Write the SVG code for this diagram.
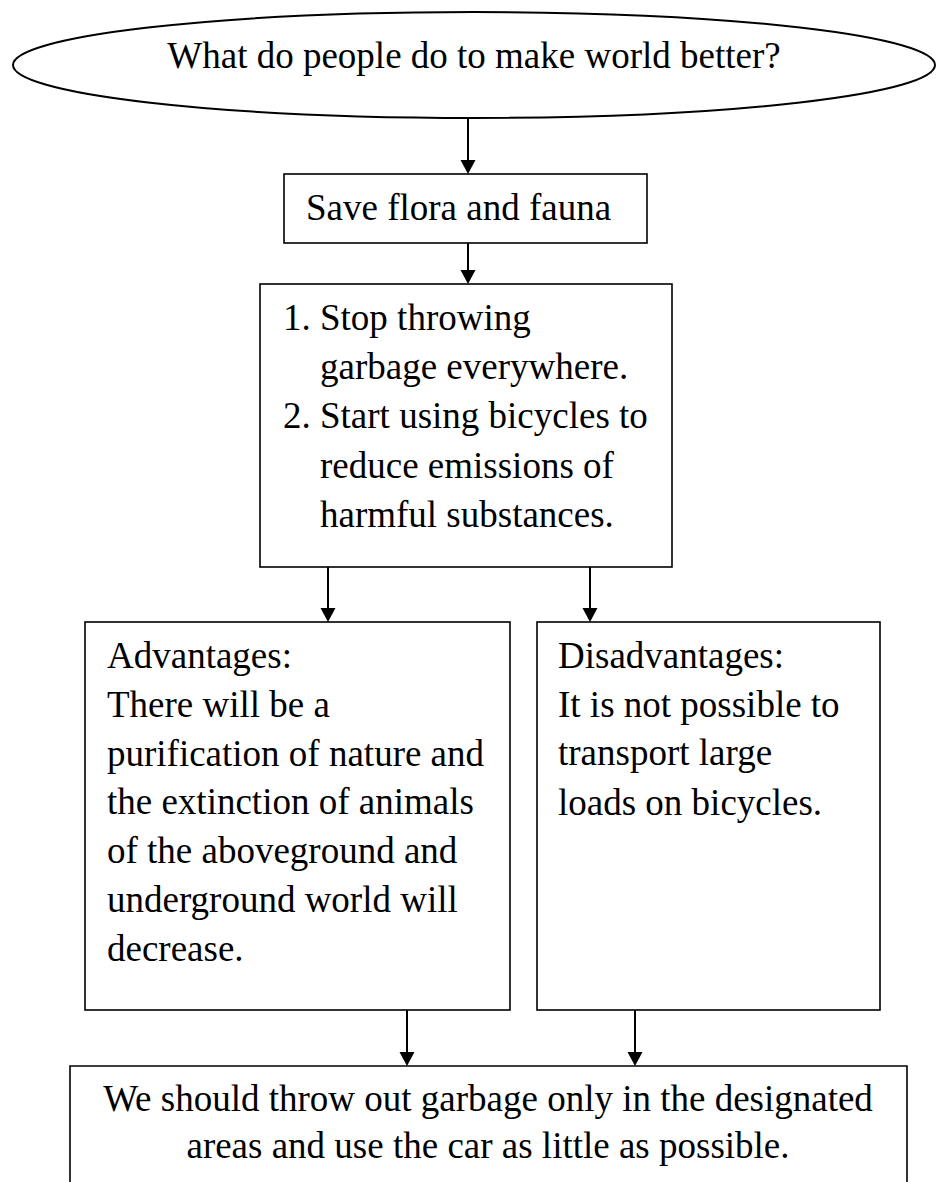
<svg xmlns="http://www.w3.org/2000/svg" width="936" height="1182" viewBox="0 0 936 1182">
  <defs>
    <style>
      .box { fill: #ffffff; stroke: #000000; stroke-width: 1.6; }
      .oval { fill: #ffffff; stroke: #000000; stroke-width: 2; }
      .t { font-family: "Liberation Serif", "Times New Roman", serif; font-size: 37px; fill: #000000; }
      .c { text-anchor: middle; }
      .conn { stroke: #000000; stroke-width: 2; fill: none; marker-end: url(#arrow); }
    </style>
    <marker id="arrow" markerUnits="userSpaceOnUse" markerWidth="16" markerHeight="16" refX="4" refY="7.5" orient="auto">
      <path d="M0,0 L14,7.5 L0,15 Z" fill="#000000"/>
    </marker>
  </defs>
  <rect width="936" height="1182" fill="#ffffff"/>

  <g id="connectors">
    <line class="conn" x1="468" y1="118" x2="468" y2="164"/>
    <line class="conn" x1="468" y1="243" x2="468" y2="274"/>
    <line class="conn" x1="328" y1="567" x2="328" y2="612"/>
    <line class="conn" x1="590" y1="567" x2="590" y2="612"/>
    <line class="conn" x1="407" y1="1010" x2="407" y2="1056"/>
    <line class="conn" x1="635" y1="1010" x2="635" y2="1056"/>
  </g>

  <g id="question">
    <ellipse class="oval" cx="474" cy="65" rx="461" ry="53"/>
    <text class="t c" x="474" y="68">What do people do to make world better?</text>
  </g>

  <g id="save">
    <rect class="box" x="284" y="174" width="363" height="69"/>
    <text class="t" x="306" y="220">Save flora and fauna</text>
  </g>

  <g id="actions">
    <rect class="box" x="260" y="284" width="412" height="283"/>
    <text class="t" x="283" y="330">1.</text>
    <text class="t" x="320" y="330">Stop throwing</text>
    <text class="t" x="320" y="379">garbage everywhere.</text>
    <text class="t" x="283" y="428">2.</text>
    <text class="t" x="320" y="428">Start using bicycles to</text>
    <text class="t" x="320" y="478">reduce emissions of</text>
    <text class="t" x="320" y="527">harmful substances.</text>
  </g>

  <g id="advantages">
    <rect class="box" x="85" y="622" width="425" height="388"/>
    <text class="t" x="107" y="668">Advantages:</text>
    <text class="t" x="107" y="717">There will be a</text>
    <text class="t" x="107" y="766">purification of nature and</text>
    <text class="t" x="107" y="814">the extinction of animals</text>
    <text class="t" x="107" y="863">of the aboveground and</text>
    <text class="t" x="107" y="912">underground world will</text>
    <text class="t" x="107" y="961">decrease.</text>
  </g>

  <g id="disadvantages">
    <rect class="box" x="537" y="622" width="343" height="388"/>
    <text class="t" x="558" y="668">Disadvantages:</text>
    <text class="t" x="558" y="717">It is not possible to</text>
    <text class="t" x="558" y="765">transport large</text>
    <text class="t" x="558" y="815">loads on bicycles.</text>
  </g>

  <g id="conclusion">
    <path class="box" d="M70,1190 L70,1066 L907,1066 L907,1190"/>
    <text class="t c" x="488" y="1111">We should throw out garbage only in the designated</text>
    <text class="t c" x="488" y="1158">areas and use the car as little as possible.</text>
  </g>
</svg>
